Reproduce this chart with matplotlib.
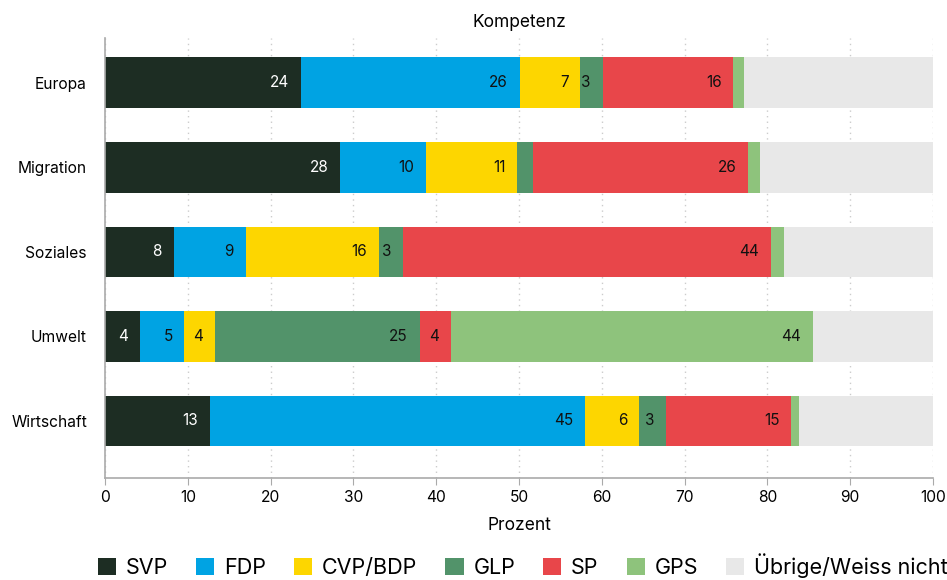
import numpy as np
import matplotlib.pyplot as plt

# Daten (Prozent)
themen = ["Europa", "Migration", "Soziales", "Umwelt", "Wirtschaft"]
parteien = ["SVP", "FDP", "CVP/BDP", "GLP", "SP", "GPS", "Übrige/Weiss nicht"]
farben = ["#1d2d23", "#00a3e3", "#fdd600", "#52936a", "#e8464a", "#8ec37c", "#e8e8e8"]

svp = [23.7, 28.4, 8.3, 4.2, 12.7]
fdp = [26.4, 10.4, 8.7, 5.4, 45.3]
cvp = [7.3, 11.0, 16.1, 3.7, 6.5]
glp = [2.7, 1.9, 2.9, 24.7, 3.3]
sp = [15.8, 26.0, 44.4, 3.8, 15.1]
gps = [1.3, 1.4, 1.6, 43.7, 0.9]
uebrige = [22.8, 20.9, 18.0, 14.5, 16.2]

werte = np.array([svp, fdp, cvp, glp, sp, gps, uebrige])

plt.rcParams["font.family"] = ["Inter", "DejaVu Sans"]

fig = plt.figure(figsize=(9.47, 5.8), dpi=100)
ax = fig.add_axes([105 / 947, 1 - 478 / 580, 828 / 947, 440 / 580])

y = np.arange(len(themen))
links = np.zeros(len(themen))
for i, (name, farbe) in enumerate(zip(parteien, farben)):
    ax.barh(y, werte[i], left=links, height=0.6, color=farbe, label=name, zorder=2)
    if i < len(parteien) - 1:
        for j in range(len(themen)):
            v = werte[i, j]
            if v >= 2.5:
                ax.annotate(f"{v:.0f}", xy=(links[j] + v, y[j]), xytext=(-8.5, 0),
                            textcoords="offset points", ha="right", va="center",
                            fontsize=11, color="white" if i == 0 else "#111111",
                            zorder=3)
    links += werte[i]

ax.set_xlim(0, 100)
ax.set_ylim(4.675, -0.53)
ax.set_xticks(np.arange(0, 101, 10))
ax.set_yticks(y)
ax.set_yticklabels(themen)
ax.tick_params(axis="y", length=0, pad=13, labelsize=11.2)
ax.tick_params(axis="x", length=5, color="#aaaaaa", labelsize=11.2, pad=4)
ax.grid(axis="x", linestyle=(0, (1, 3)), color="#cccccc", linewidth=1, zorder=0)

for s in ["top", "right"]:
    ax.spines[s].set_visible(False)
for s in ["left", "bottom"]:
    ax.spines[s].set_color("#aaaaaa")
    ax.spines[s].set_linewidth(1.2)

ax.set_xlabel("Prozent", fontsize=12.5, labelpad=8)
ax.set_title("Kompetenz", fontsize=12.5, pad=8)

fig.legend(loc="lower center", bbox_to_anchor=(0.552, -0.012), ncol=7, frameon=False,
           fontsize=15.5, handlelength=0.85, handleheight=0.85, handletextpad=0.45,
           columnspacing=1.3, borderaxespad=0)

fig.savefig("out.png", dpi=100)
